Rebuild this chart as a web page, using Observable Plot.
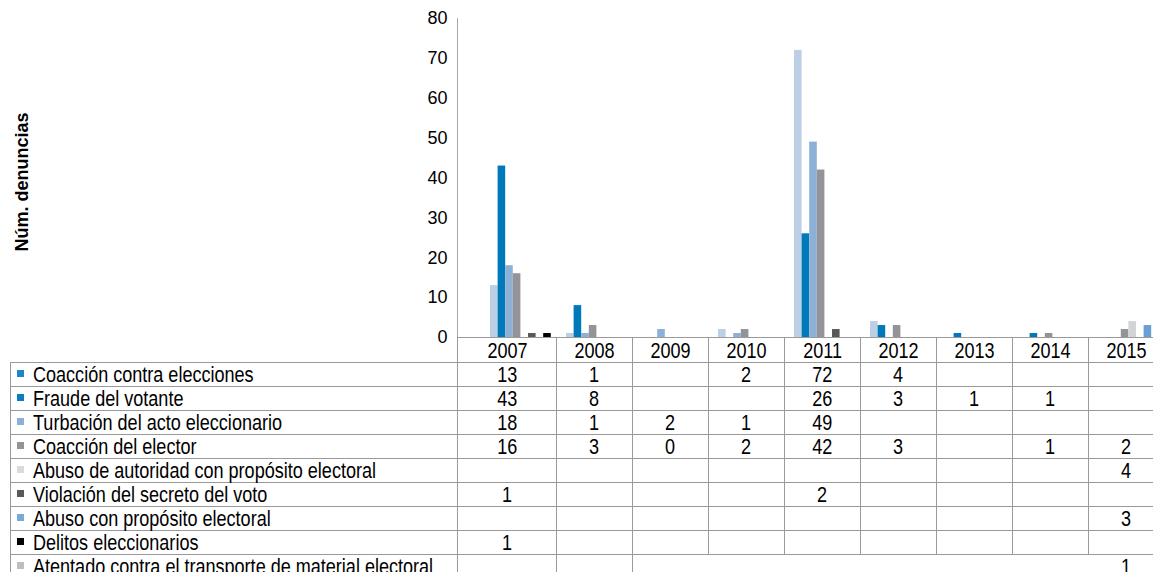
<!DOCTYPE html>
<html>
<head>
<meta charset="utf-8">
<script src="https://cdn.jsdelivr.net/npm/d3@7"></script>
<script src="https://cdn.jsdelivr.net/npm/@observablehq/plot@0.6"></script>
<style>
  html, body { margin: 0; padding: 0; background: #fff; width: 1153px; height: 572px; overflow: hidden; position: relative; }
  #chart { position: absolute; left: 0; top: 0; }
  #chart svg { display: block; overflow: visible; background: transparent; font-family: "Liberation Sans", Arial, sans-serif; }
  #tbl { position: absolute; left: 10px; top: 337px; }
  table { border-collapse: collapse; table-layout: fixed; width: 1154px; font-family: "Liberation Sans", Arial, sans-serif; font-size: 22px; color: #000; }
  td, th { border: 1px solid #9a9a9a; padding: 1px 0 0 0; height: 22px; line-height: 22px; text-align: center; font-weight: normal; white-space: nowrap; overflow: visible; vertical-align: top; }
  th { height: 19px; padding-top: 2px; }
  th.blank { border: none; }
  td.lab { text-align: left; }
  .key { display: inline-block; width: 7px; height: 7px; margin-left: 6px; margin-right: 9px; vertical-align: 5px; }
  .t { display: inline-block; transform: scaleX(0.82); transform-origin: center center; }
  td.lab .t { transform-origin: left center; }
  td.nob { border-left-style: hidden; }
</style>
</head>
<body>
<div id="chart"></div>
<div id="tbl"></div>
<script>
// ---- data ----
const years = ["2007", "2008", "2009", "2010", "2011", "2012", "2013", "2014", "2015"];
const seriesNames = [
  "Coacción contra elecciones",
  "Fraude del votante",
  "Turbación del acto eleccionario",
  "Coacción del elector",
  "Abuso de autoridad con propósito electoral",
  "Violación del secreto del voto",
  "Abuso con propósito electoral",
  "Delitos eleccionarios",
  "Atentado contra el transporte de material electoral"
];
const coaccionContraElecciones = [13, 1, null, 2, 72, 4, null, null, null];
const fraudeDelVotante        = [43, 8, null, null, 26, 3, 1, 1, null];
const turbacionActo           = [18, 1, 2, 1, 49, null, null, null, null];
const coaccionDelElector      = [16, 3, 0, 2, 42, 3, null, 1, 2];
const abusoDeAutoridad        = [null, null, null, null, null, null, null, null, 4];
const violacionSecreto        = [1, null, null, null, 2, null, null, null, null];
const abusoConProposito       = [null, null, null, null, null, null, null, null, 3];
const delitosEleccionarios    = [1, null, null, null, null, null, null, null, null];
const atentadoTransporte      = [null, null, null, null, null, null, null, null, 1];
const yTicks = [0, 10, 20, 30, 40, 50, 60, 70, 80];
const yLabel = "Núm. denuncias";

// ---- styles ----
const barColors = ["#bccfe5", "#0079ba", "#8db1d6", "#929497", "#d3d4d6", "#58595b", "#6a9fd3", "#000000", "#c8c9cb"];
const keyColors = ["#1b87c7", "#0a7dc0", "#8db1d6", "#929497", "#d9dadc", "#58595b", "#7aa8d8", "#000000", "#bdbec0"];

const allSeries = [coaccionContraElecciones, fraudeDelVotante, turbacionActo, coaccionDelElector,
  abusoDeAutoridad, violacionSecreto, abusoConProposito, delitosEleccionarios, atentadoTransporte];

const data = [];
allSeries.forEach((vals, k) => vals.forEach((v, i) => {
  if (v !== null) data.push({year: years[i], series: seriesNames[k], k, value: v});
}));

// one band slot per series plus one spacer slot per year
const slotKeys = years.flatMap(y => [...seriesNames.map((s, k) => y + "|" + k), y + "|gap"]);
const slot = 7.6;

const plot = Plot.plot({
  width: 1153,
  height: 337,
  marginLeft: 457,
  marginRight: 0,
  marginTop: 18,
  marginBottom: 0,
  style: {background: "transparent", overflow: "visible"},
  x: {type: "band", domain: slotKeys, range: [490, 490 + slotKeys.length * slot], padding: 0, round: false, axis: null},
  y: {domain: [0, 80], axis: null},
  color: {domain: seriesNames, range: barColors},
  marks: [
    Plot.barY(data, {x: d => d.year + "|" + d.k, y: "value", fill: "series"}),
    Plot.frame({anchor: "left", stroke: "#a6a6a6"}),
    Plot.axisY({ticks: yTicks, tickSize: 0, tickPadding: 10, fontSize: 18, label: null, tickFormat: d => d, fill: "#000"}),
    Plot.text([yLabel], {frameAnchor: "left", textAnchor: "middle", dx: -435, dy: 4, rotate: -90, text: d => d, fontSize: 18, fontWeight: "bold", fill: "#000"})
  ]
});
document.getElementById("chart").appendChild(plot);

// ---- data table ----
function textSpan(s) { const sp = document.createElement("span"); sp.className = "t"; sp.textContent = s; return sp; }
const table = document.createElement("table");
const colgroup = document.createElement("colgroup");
[447, 99, 76, 76, 76, 76, 76, 76, 76, 76].forEach(w => {
  const c = document.createElement("col"); c.style.width = w + "px"; colgroup.appendChild(c);
});
table.appendChild(colgroup);
const head = document.createElement("tr");
const blank = document.createElement("th"); blank.className = "blank"; head.appendChild(blank);
years.forEach(y => { const th = document.createElement("th"); th.appendChild(textSpan(y)); head.appendChild(th); });
table.appendChild(head);
allSeries.forEach((vals, k) => {
  const tr = document.createElement("tr");
  const lab = document.createElement("td"); lab.className = "lab";
  const key = document.createElement("span"); key.className = "key"; key.style.background = keyColors[k];
  lab.appendChild(key); lab.appendChild(textSpan(seriesNames[k]));
  tr.appendChild(lab);
  vals.forEach((v, i) => {
    const td = document.createElement("td");
    if (v !== null) td.appendChild(textSpan(String(v)));
    if (k === allSeries.length - 1 && i >= 3) td.className = "nob";
    tr.appendChild(td);
  });
  table.appendChild(tr);
});
document.getElementById("tbl").appendChild(table);
</script>
</body>
</html>
